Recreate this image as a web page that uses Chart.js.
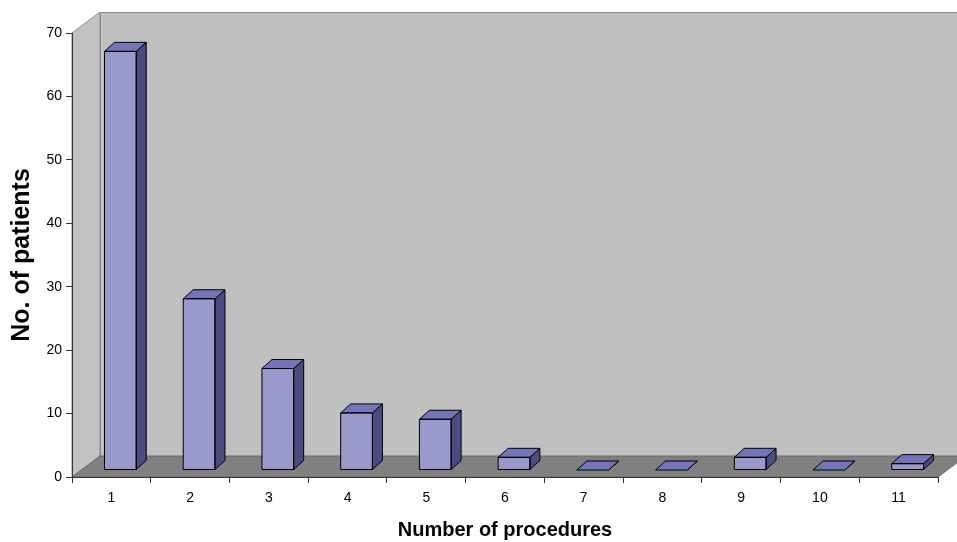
<!DOCTYPE html>
<html>
<head>
<meta charset="utf-8">
<script src="https://cdn.jsdelivr.net/npm/chart.js@4.4.0/dist/chart.umd.min.js"></script>
<style>
	html, body { margin: 0; padding: 0; background: #ffffff; }
	#wrap { width: 957px; height: 542px; }
</style>
</head>
<body>
<div id="wrap"><canvas id="grafico" width="957" height="542"></canvas></div>
<script>
// dados
var procedimentos = ['1', '2', '3', '4', '5', '6', '7', '8', '9', '10', '11'];
var pacientes = [66, 27, 16, 9, 8, 2, 0, 0, 2, 0, 1];
var ticksY = [0, 10, 20, 30, 40, 50, 60, 70];

var fonte = '"Liberation Sans", Arial, sans-serif';

// profundidade da caixa 3D e das barras
var caixaDX = 28, caixaDY = -21;
var barraDX = 9, barraDY = -7;
var faceDX = 10, faceDY = -9;

var caixa3d = {
	id: 'caixa3d',
	beforeDraw: function (chart) {
		var ctx = chart.ctx;
		var a = chart.chartArea;
		ctx.save();
		ctx.lineWidth = 1;
		ctx.strokeStyle = '#8a8a8a';
		// parede do fundo
		ctx.fillStyle = '#c0c0c0';
		ctx.fillRect(a.left + caixaDX, a.top + caixaDY, a.right - a.left, a.bottom - a.top);
		ctx.strokeRect(a.left + caixaDX + 0.5, a.top + caixaDY + 0.5, a.right - a.left, a.bottom - a.top);
		// parede lateral
		ctx.beginPath();
		ctx.moveTo(a.left, a.top);
		ctx.lineTo(a.left + caixaDX, a.top + caixaDY);
		ctx.lineTo(a.left + caixaDX, a.bottom + caixaDY);
		ctx.lineTo(a.left, a.bottom);
		ctx.closePath();
		ctx.fillStyle = '#c2c2c0';
		ctx.fill();
		ctx.stroke();
		// piso
		ctx.beginPath();
		ctx.moveTo(a.left, a.bottom);
		ctx.lineTo(a.left + caixaDX, a.bottom + caixaDY);
		ctx.lineTo(a.right + caixaDX, a.bottom + caixaDY);
		ctx.lineTo(a.right, a.bottom);
		ctx.closePath();
		ctx.fillStyle = '#808080';
		ctx.fill();
		ctx.strokeStyle = '#6a6a6a';
		ctx.stroke();
		ctx.restore();
	},
	beforeDatasetsDraw: function (chart) {
		chart.ctx.save();
		chart.ctx.translate(barraDX, barraDY);
	},
	afterDatasetsDraw: function (chart) {
		var ctx = chart.ctx;
		var meta = chart.getDatasetMeta(0);
		ctx.lineWidth = 1;
		ctx.strokeStyle = '#000000';
		ctx.lineJoin = 'round';
		meta.data.forEach(function (bar) {
			var p = bar.getProps(['x', 'y', 'base', 'width'], true);
			var l = p.x - p.width / 2, r = p.x + p.width / 2;
			// lado
			ctx.beginPath();
			ctx.moveTo(r, p.y);
			ctx.lineTo(r + faceDX, p.y + faceDY);
			ctx.lineTo(r + faceDX, p.base + faceDY);
			ctx.lineTo(r, p.base);
			ctx.closePath();
			ctx.fillStyle = '#4b4b82';
			ctx.fill();
			ctx.stroke();
			// topo
			ctx.beginPath();
			ctx.moveTo(l, p.y);
			ctx.lineTo(l + faceDX, p.y + faceDY);
			ctx.lineTo(r + faceDX, p.y + faceDY);
			ctx.lineTo(r, p.y);
			ctx.closePath();
			ctx.fillStyle = '#7474b8';
			ctx.fill();
			ctx.stroke();
			if (p.base - p.y > 0.5) {
				ctx.strokeRect(l, p.y, r - l, p.base - p.y);
			}
		});
		ctx.restore();
	}
};

var configBarras = {
	type: 'bar',
	data: {
		labels: procedimentos,
		datasets: [
			{
				label: 'No. of patients',
				data: pacientes,
				backgroundColor: '#9999cc',
				borderColor: '#000000',
				borderWidth: 0,
				barPercentage: 0.403,
				categoryPercentage: 1,
				clip: false,
			},
		],
	},
	options: {
		responsive: false,
		animation: false,
		devicePixelRatio: 1,
		layout: {
			padding: { top: 33, right: 19, left: 0, bottom: 0 },
		},
		plugins: {
			legend: { display: false },
			title: { display: false },
			tooltip: { enabled: false },
		},
		scales: {
			x: {
				grid: {
					offset: true,
					drawOnChartArea: false,
					drawTicks: true,
					tickLength: 6,
					color: '#333333',
				},
				border: { display: true, color: '#333333' },
				ticks: {
					color: '#000000',
					padding: 7,
					font: { family: fonte, size: 14 },
				},
				title: {
					display: true,
					text: 'Number of procedures',
					color: '#000000',
					padding: { top: 0, bottom: 0 },
					font: { family: fonte, size: 20, weight: 'bold', lineHeight: 1.2 },
				},
				afterFit: function (scale) { scale.height = 65; },
			},
			y: {
				min: 0,
				max: 70,
				afterBuildTicks: function (scale) {
					scale.ticks = ticksY.map(function (v) { return { value: v }; });
				},
				grid: {
					drawOnChartArea: false,
					drawTicks: true,
					tickLength: 6,
					color: '#333333',
				},
				border: { display: true, color: '#333333' },
				ticks: {
					color: '#000000',
					padding: 4,
					font: { family: fonte, size: 14 },
				},
				title: {
					display: true,
					text: 'No. of patients',
					color: '#000000',
					padding: { top: 7, bottom: 0 },
					font: { family: fonte, size: 25, weight: 'bold', lineHeight: 1.2 },
				},
				afterFit: function (scale) { scale.width = 72; },
			},
		},
	},
	plugins: [caixa3d],
};

var ctxGrafico = document.getElementById('grafico').getContext('2d');
window.graficoBarras = new Chart(ctxGrafico, configBarras);
</script>
</body>
</html>
